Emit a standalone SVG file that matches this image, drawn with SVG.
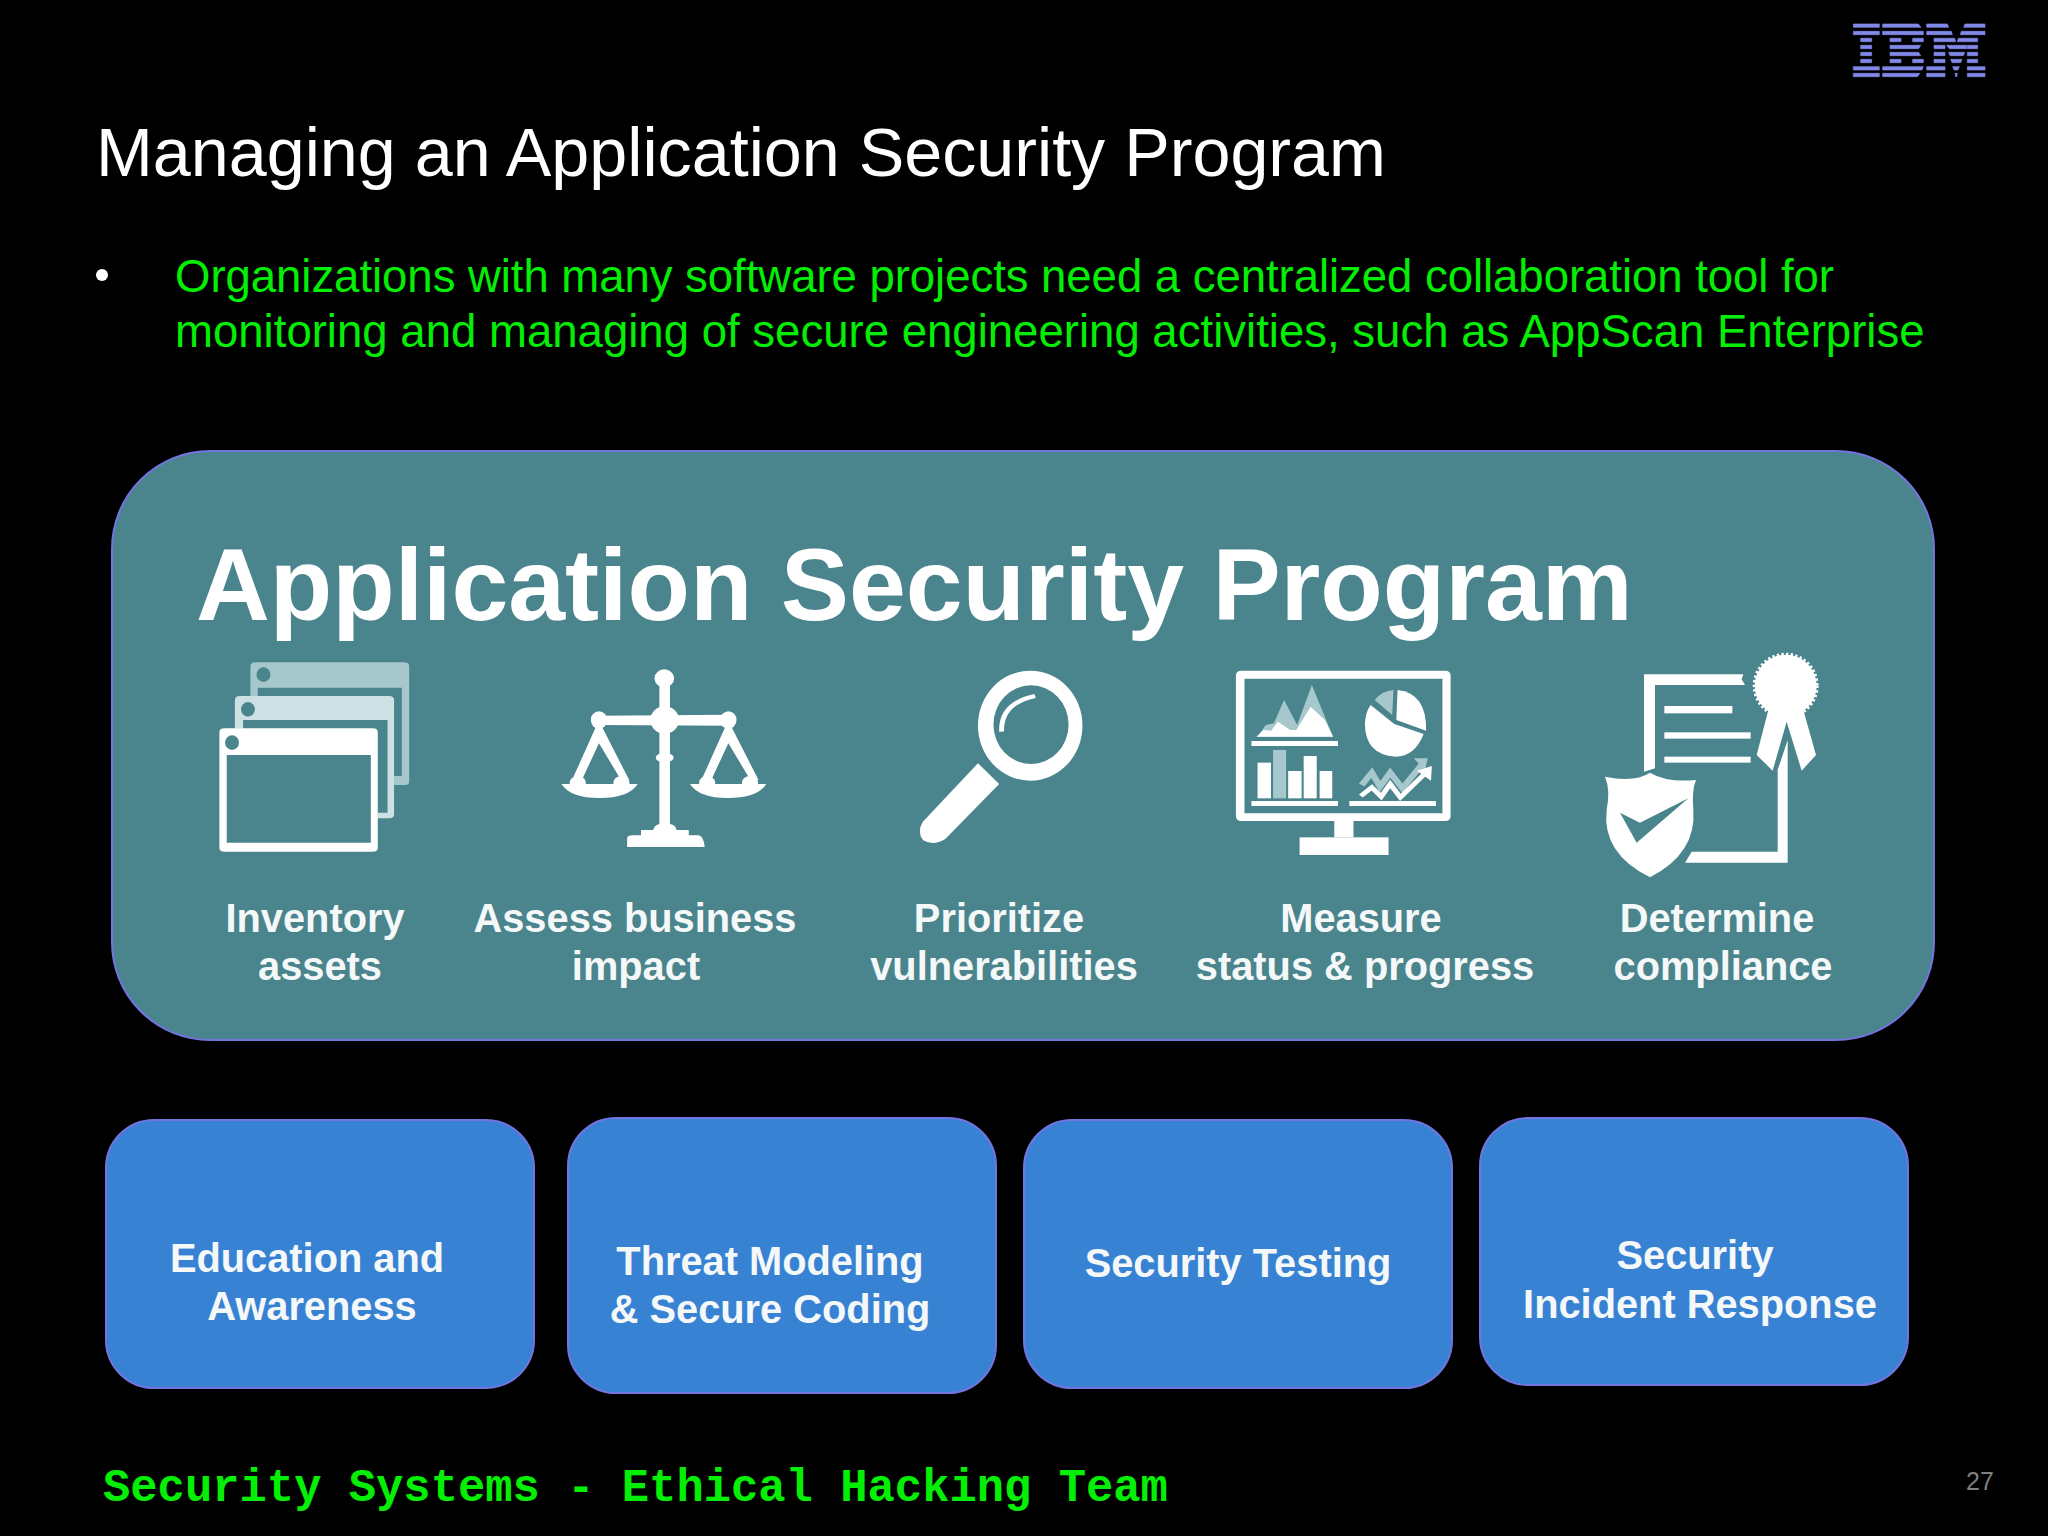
<svg xmlns="http://www.w3.org/2000/svg" width="2048" height="1536" viewBox="0 0 2048 1536">
<style>
text{font-family:"Liberation Sans",Arial,sans-serif;fill:#fff}
.b{font-weight:700}
.l{font-size:39.8px;font-weight:700;text-anchor:middle;fill:#f4f8f8}
.m{font-size:39.8px;font-weight:700;text-anchor:middle;fill:#f4f8f8}
.g{font-size:45.55px;fill:#05ee05}
.box{fill:#3882d4;stroke:#7474e0;stroke-width:2}
.w{fill:#fff}
.t{fill:#4a848c}
.p{fill:#a6c7cb}
.ibm{fill:#8088e8}
</style>
<rect width="2048" height="1536" fill="#000"/>
<g id="ibm-logo" transform="translate(1820,10) scale(.33333)" class="ibm" stroke="#8088e8" stroke-width="2">
<path d="M100 42h78v10h-78zM100 64h78v10h-78zM122 85h33v10h-33zM122 106h33v10h-33zM122 127h33v10h-33zM122 148h33v10h-33zM100 170h78v10h-78zM100 190h78v10h-78z"/>
<path d="M188 42h107l8 10h-115zM188 64h122v10h-122zM210 85h33v10h-33zM278 85h32v10h-32zM210 106h92l-6 10h-86zM210 127h86l6 10h-92zM210 148h33v10h-33zM278 148h32v10h-32zM188 170h122l-4 10h-118zM188 190h112l-8 10h-104z"/>
<path d="M320 42h62l4 10h-66zM320 64h74l3 10h-77zM342 85h62l3 10h-65zM342 106h33v10h-33zM380 106h60v10h-52zM442 106h31v10h-31zM342 127h33v10h-33zM386 127h48l-4 10h-40zM442 127h31v10h-31zM342 148h33v10h-33zM392 148h34l-4 10h-26zM442 148h31v10h-31zM320 170h55v10h-55zM398 170h20l-4 10h-12zM442 170h53v10h-53zM320 190h55v10h-55zM405 190h7l-2 10h-3zM442 190h53v10h-53zM435 42h60v10h-64zM424 64h71v10h-74zM415 85h58v10h-61z"/>
</g>
<text id="title" x="96" y="176" font-size="68.25">Managing an Application Security Program</text>
<g id="bullet-text">
<circle cx="102" cy="275" r="6" fill="#fff"/>
<text class="g" x="175" y="292" textLength="1659">Organizations with many software projects need a centralized collaboration tool for</text>
<text class="g" x="175" y="347">monitoring and managing of secure engineering activities, such as AppScan Enterprise</text>
</g>
<g id="program-panel">
<rect x="112" y="451" width="1822" height="589" rx="98" fill="#4a848c" stroke="#7474e0" stroke-width="2"/>
<text class="b" x="196" y="620" font-size="102.2">Application Security Program</text>
</g>
<g id="inventory">
<g transform="translate(190,640) scale(.40816,.33333)">
<path class="p" fill-rule="evenodd" d="M162 67H525q12 0 12 12V425q0 10-10 10H500V408H519V143H166V170H148V79q0-12 14-12Z"/>
<ellipse class="t" cx="180" cy="104" rx="17" ry="22"/>
<path fill="#cde0e4" fill-rule="evenodd" d="M122 168H488q12 0 12 12V522q0 13-12 13H460V518H484V240H130V266H110V180q0-12 12-12Z"/>
<ellipse class="t" cx="142" cy="208" rx="17" ry="22"/>
<path class="w" fill-rule="evenodd" d="M84 265H448q12 0 12 12V623q0 12-12 12H84q-12 0-12-12V277q0-12 12-12ZM90 345V608H443V345Z"/>
<ellipse class="t" cx="103" cy="308" rx="17" ry="22"/>
</g>
<text class="l" x="315" y="932">Inventory</text>
<text class="l" x="320" y="980">assets</text>
</g>
<g id="assess">
<g transform="translate(190,640) scale(.40816,.33333)" class="w">
<ellipse cx="1162" cy="115" rx="24" ry="27"/>
<rect x="1150" y="115" width="26" height="450"/>
<path d="M1000 227L1320 224V257L1000 255Z"/>
<ellipse cx="1163" cy="240" rx="35" ry="41"/>
<ellipse cx="1002" cy="240" rx="20" ry="26"/>
<ellipse cx="1319" cy="240" rx="20" ry="26"/>
<ellipse cx="1163" cy="353" rx="22" ry="14"/>
<path d="M994 262H1010L1076 420H1056L1002 310L960 420H936Z"/>
<ellipse cx="950" cy="428" rx="20" ry="20"/><ellipse cx="1057" cy="428" rx="20" ry="20"/>
<path d="M910 432H1097Q1075 474 1003 474Q932 474 910 432Z"/>
<path d="M1311 262H1327L1393 420H1373L1319 310L1277 420H1253Z"/>
<ellipse cx="1267" cy="428" rx="20" ry="20"/><ellipse cx="1372" cy="428" rx="20" ry="20"/>
<path d="M1225 432H1412Q1390 474 1318 474Q1247 474 1225 432Z"/>
<path d="M1071 621V595Q1071 586 1085 586H1105V570H1135Q1138 550 1163 550Q1190 550 1192 570H1222V586H1245Q1258 586 1261 621Z"/>
</g>
<text class="l" x="635" y="932">Assess business</text>
<text class="l" x="636" y="980">impact</text>
</g>
<g id="prioritize">
<g transform="translate(880,640) scale(.40816,.33333)">
<path class="w" fill-rule="evenodd" d="M240 257a128 165 0 1 0 256 0a128 165 0 1 0-256 0ZM278 254a92 118 0 1 1 184 0a92 118 0 1 1-184 0Z"/>
<path d="M298 275Q295 190 380 168" fill="none" stroke="#fff" stroke-width="12"/>
<path class="w" d="M240 370L292 432L160 597Q130 620 105 600Q90 575 105 545Z"/>
</g>
<text class="l" x="999" y="932">Prioritize</text>
<text class="l" x="1004" y="980">vulnerabilities</text>
</g>
<g id="measure">
<g transform="translate(880,640) scale(.40816,.33333)">
<path class="w" fill-rule="evenodd" d="M886 92H1384q14 0 14 14V529q0 14-14 14H886q-14 0-14-14V106q0-14 14-14ZM893 116V520H1378V116Z"/>
<rect class="w" x="1113" y="543" width="47" height="49"/>
<rect class="w" x="1028" y="592" width="218" height="53"/>
<path class="p" d="M925 290L945 255L965 250L990 180L1022 255L1058 135L1110 290Z"/>
<path class="w" d="M922 290L940 270L958 272L975 245L1005 270L1020 270L1055 200L1090 240L1110 290Z"/>
<rect class="w" x="910" y="303" width="212" height="15"/>
<path class="p" d="M1258 150L1255 225L1212 180Q1230 152 1258 150Z"/>
<path class="w" d="M1268 150Q1340 160 1338 272L1265 240Z"/>
<path class="w" d="M1202 195L1260 252L1332 282Q1310 350 1263 350Q1188 345 1188 250Q1190 215 1202 195Z"/>
<rect class="w" x="925" y="368" width="33" height="107"/>
<rect class="p" x="963" y="330" width="32" height="145"/>
<rect class="w" x="1000" y="393" width="33" height="82"/>
<rect class="w" x="1038" y="348" width="32" height="127"/>
<rect class="w" x="1077" y="393" width="31" height="82"/>
<rect class="w" x="910" y="483" width="212" height="15"/>
<rect class="w" x="1150" y="483" width="212" height="15"/>
<path d="M1180 435L1205 398L1225 440L1250 398L1280 445L1330 370" fill="none" stroke="#a6c7cb" stroke-width="16"/>
<path class="p" d="M1308 355H1342L1335 392Z"/>
<path d="M1178 468L1205 442L1228 470L1250 432L1275 472L1340 395" fill="none" stroke="#fff" stroke-width="13"/>
<path class="w" d="M1315 392L1352 378L1350 422Z"/>
</g>
<text class="l" x="1361" y="932">Measure</text>
<text class="l" x="1365" y="980">status &amp; progress</text>
</g>
<g id="determine">
<g transform="translate(1560,640) scale(.33333)">
<path class="w" d="M252 103H550L545 118L555 135H285V385L252 395Z"/>
<path class="w" d="M683 300V668H375L395 635H653V390Z"/>
<rect class="w" x="313" y="198" width="204" height="22"/>
<rect class="w" x="313" y="277" width="259" height="19"/>
<rect class="w" x="313" y="350" width="259" height="18"/>
<circle class="w" cx="677" cy="137" r="93"/>
<circle cx="677" cy="137" r="95" fill="none" stroke="#fff" stroke-width="8" stroke-dasharray="7 7"/>
<path class="w" d="M625 210L590 345L638 392L680 245L725 392L768 345L730 210Z"/>
<path class="w" d="M270 398Q225 428 135 410Q152 450 140 510Q125 640 270 712Q410 640 400 510Q395 450 408 420Q320 428 270 398Z"/>
<path class="t" d="M180 518L240 548L385 475L230 608Z"/>
</g>
<text class="l" x="1717" y="932">Determine</text>
<text class="l" x="1723" y="980">compliance</text>
</g>
<g id="education">
<rect class="box" x="106" y="1120" width="428" height="268" rx="48"/>
<text class="m" x="307" y="1272">Education and</text>
<text class="m" x="312" y="1320">Awareness</text>
</g>
<g id="threat-modeling">
<rect class="box" x="568" y="1118" width="428" height="275" rx="48"/>
<text class="m" x="770" y="1275">Threat Modeling</text>
<text class="m" x="770" y="1323">&amp; Secure Coding</text>
</g>
<g id="security-testing">
<rect class="box" x="1024" y="1120" width="428" height="268" rx="48"/>
<text class="m" x="1238" y="1277">Security Testing</text>
</g>
<g id="incident-response">
<rect class="box" x="1480" y="1118" width="428" height="267" rx="48"/>
<text class="m" x="1695" y="1269">Security</text>
<text class="m" x="1700" y="1318">Incident Response</text>
</g>
<text id="footer" x="103" y="1501" font-size="45.5" font-weight="700" style="font-family:'Liberation Mono',monospace;fill:#05ee05">Security Systems - Ethical Hacking Team</text>
<text id="page" x="1966" y="1490" font-size="25" style="fill:#7f7f7f">27</text>
<g id="connectors"></g>
</svg>
